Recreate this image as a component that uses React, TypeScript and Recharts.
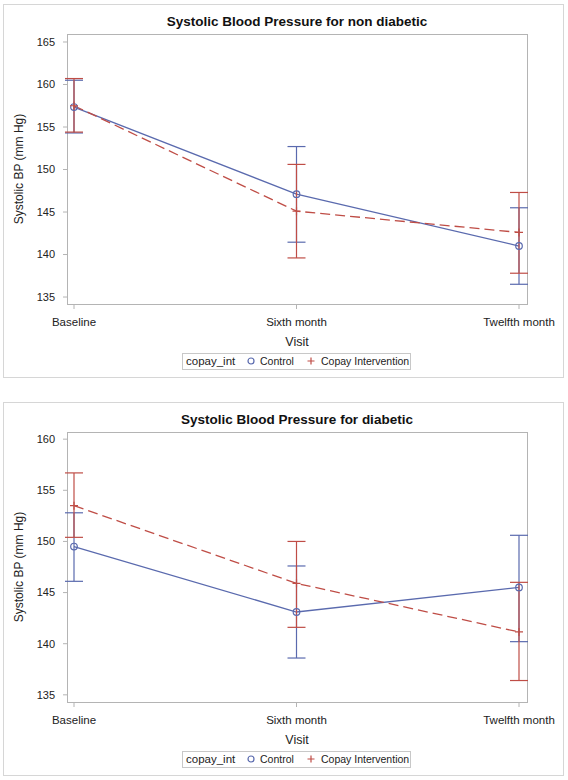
import React from 'react';
import { ComposedChart, Line, XAxis, YAxis, ErrorBar } from 'recharts';

const visits = ['Baseline', 'Sixth month', 'Twelfth month'];

// non diabetic
const ndControl = [157.35, 147.1, 141.0];
const ndControlLo = [154.3, 141.45, 136.5];
const ndControlHi = [160.5, 152.7, 145.5];
const ndCopay = [157.5, 145.1, 142.6];
const ndCopayLo = [154.4, 139.6, 137.8];
const ndCopayHi = [160.7, 150.6, 147.3];
const ndTicks = [135, 140, 145, 150, 155, 160, 165];

// diabetic
const dControl = [149.5, 143.1, 145.5];
const dControlLo = [146.1, 138.6, 140.2];
const dControlHi = [152.8, 147.6, 150.6];
const dCopay = [153.5, 145.9, 141.15];
const dCopayLo = [150.4, 141.6, 136.4];
const dCopayHi = [156.7, 150.0, 146.0];
const dTicks = [135, 140, 145, 150, 155, 160];

const BLUE = '#5a6aae';
const RED = '#bf4d46';
const FRAME = '#b4b4b4';
const TEXT = '#222';
const FONT = '"Liberation Sans", Arial, sans-serif';

// plot area box (same margins for both panels)
const PLOT = { left: 67, top: 34, right: 527, bottom: 304 };

type Row = {
  visit: string;
  ctrl: number;
  ctrlLo: number;
  ctrlHi: number;
  copay: number;
  copayLo: number;
  copayHi: number;
};

function buildRows(ctrl: number[], ctrlLo: number[], ctrlHi: number[], copay: number[], copayLo: number[], copayHi: number[]): Row[] {
  return visits.map((visit, i) => ({
    visit,
    ctrl: ctrl[i],
    ctrlLo: ctrlLo[i],
    ctrlHi: ctrlHi[i],
    copay: copay[i],
    copayLo: copayLo[i],
    copayHi: copayHi[i],
  }));
}

const ctrlErr = (d: Row) => [d.ctrl - d.ctrlLo, d.ctrlHi - d.ctrl];
const copayErr = (d: Row) => [d.copay - d.copayLo, d.copayHi - d.copay];

const CircleDot = (props: any) => {
  const { cx, cy } = props;
  if (cx == null || cy == null) return null;
  return <circle cx={cx} cy={cy} r={3.3} stroke={BLUE} strokeWidth={1.2} fill="none" />;
};

const PlusDot = (props: any) => {
  const { cx, cy } = props;
  if (cx == null || cy == null) return null;
  return (
    <path d={`M${cx - 4},${cy}H${cx + 4}M${cx},${cy - 4}V${cy + 4}`} stroke={RED} strokeWidth={1.2} fill="none" />
  );
};

function Legend() {
  const base: React.CSSProperties = { position: 'absolute', top: 353, height: 16, lineHeight: '16px', fontSize: 10.5, color: TEXT };
  return (
    <>
      <div
        style={{
          position: 'absolute',
          left: 182,
          top: 353,
          width: 229,
          height: 17,
          border: '1px solid #c8c8c8',
          boxSizing: 'border-box',
        }}
      />
      <span style={{ ...base, left: 186, fontSize: 11.5 }}>copay_int</span>
      <svg style={{ position: 'absolute', left: 246, top: 356 }} width={10} height={10}>
        <circle cx={5} cy={5} r={3} stroke={BLUE} strokeWidth={1.2} fill="none" />
      </svg>
      <span style={{ ...base, left: 260 }}>Control</span>
      <svg style={{ position: 'absolute', left: 306, top: 356 }} width={10} height={10}>
        <path d="M1.5,5H8.5M5,1.5V8.5" stroke={RED} strokeWidth={1.2} fill="none" />
      </svg>
      <span style={{ ...base, left: 321 }}>Copay Intervention</span>
    </>
  );
}

function BPChart({ title, rows, domain, ticks, top }: { title: string; rows: Row[]; domain: [number, number]; ticks: number[]; top: number }) {
  return (
    <div style={{ position: 'absolute', left: 0, top, width: 568, height: 380, fontFamily: FONT }}>
      <div
        style={{
          position: 'absolute',
          left: 3,
          top: 4,
          width: 561,
          height: 374,
          border: '1px solid #d6d6d6',
          boxSizing: 'border-box',
        }}
      />
      <div
        style={{
          position: 'absolute',
          left: PLOT.left,
          top: PLOT.top,
          width: PLOT.right - PLOT.left + 1,
          height: PLOT.bottom - PLOT.top + 1,
          border: `1px solid ${FRAME}`,
          boxSizing: 'border-box',
        }}
      />
      <div
        style={{
          position: 'absolute',
          left: PLOT.left,
          top: 14,
          width: PLOT.right - PLOT.left,
          textAlign: 'center',
          fontWeight: 'bold',
          fontSize: 13.5,
          lineHeight: '16px',
          color: '#111',
        }}
      >
        {title}
      </div>
      <div style={{ position: 'absolute', left: 0, top: 0 }}>
        <ComposedChart
          width={568}
          height={380}
          data={rows}
          margin={{ top: PLOT.top, right: 568 - PLOT.right, bottom: 380 - PLOT.bottom - 30, left: PLOT.left - 60 }}
        >
          <XAxis
            dataKey="visit"
            height={30}
            padding={{ left: 7, right: 8 }}
            interval={0}
            tickSize={5}
            tickMargin={9}
            tick={{ fill: TEXT, fontSize: 11.5 }}
            tickLine={{ stroke: FRAME }}
            axisLine={false}
            label={{ value: 'Visit', position: 'bottom', offset: 3, fill: TEXT, fontSize: 12.5 }}
          />
          <YAxis
            type="number"
            width={60}
            domain={domain}
            ticks={ticks}
            allowDataOverflow
            interval={0}
            tickSize={4}
            tickMargin={8}
            tick={{ fill: TEXT, fontSize: 11 }}
            tickLine={{ stroke: FRAME }}
            axisLine={false}
            label={{
              value: 'Systolic BP (mm Hg)',
              angle: -90,
              position: 'insideLeft',
              offset: 12,
              fill: TEXT,
              fontSize: 12,
              style: { textAnchor: 'middle' },
            }}
          />
          <Line
            dataKey="ctrl"
            stroke={BLUE}
            strokeWidth={1.3}
            dot={<CircleDot />}
            activeDot={false}
            isAnimationActive={false}
          >
            <ErrorBar dataKey={ctrlErr as any} width={9} stroke={BLUE} strokeWidth={1.2} direction="y" />
          </Line>
          <Line
            dataKey="copay"
            stroke={RED}
            strokeWidth={1.3}
            strokeDasharray="10 5"
            dot={<PlusDot />}
            activeDot={false}
            isAnimationActive={false}
          >
            <ErrorBar dataKey={copayErr as any} width={9} stroke={RED} strokeWidth={1.2} direction="y" />
          </Line>
        </ComposedChart>
      </div>
      <Legend />
    </div>
  );
}

export default function App() {
  return (
    <div style={{ position: 'absolute', left: 0, top: 0, width: 568, height: 780, background: '#fff' }}>
      <BPChart
        title="Systolic Blood Pressure for non diabetic"
        rows={buildRows(ndControl, ndControlLo, ndControlHi, ndCopay, ndCopayLo, ndCopayHi)}
        domain={[134.18, 165.94]}
        ticks={ndTicks}
        top={0}
      />
      <BPChart
        title="Systolic Blood Pressure for diabetic"
        rows={buildRows(dControl, dControlLo, dControlHi, dCopay, dCopayLo, dCopayHi)}
        domain={[134.3, 160.7]}
        ticks={dTicks}
        top={398}
      />
    </div>
  );
}
